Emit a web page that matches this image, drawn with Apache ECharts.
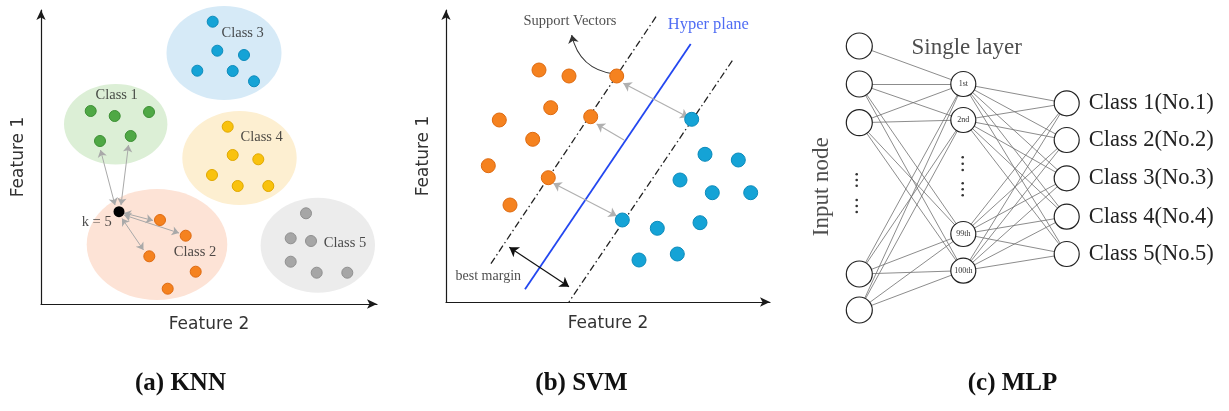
<!DOCTYPE html>
<html><head><meta charset="utf-8">
<script src="https://cdn.jsdelivr.net/npm/echarts@6/dist/echarts.min.js"></script>
<style>html,body{margin:0;padding:0;background:#fff}#c{width:1229px;height:411px}</style>
</head><body><div id="c"></div>
<script>
// ---------- (a) KNN : points in Feature2 / Feature1 units ----------
const knnClassNames = ['Class 1', 'Class 2', 'Class 3', 'Class 4', 'Class 5'];
const knnClass1 = [[49.7,193],[73.7,188],[108,192],[59,163],[89.7,168]];
const knnClass2 = [[119,84],[144.7,68.3],[108.3,47.7],[154.7,32.3],[126.7,15.3]];
const knnClass3 = [[171.7,282.3],[176.3,253.3],[203,249],[156.3,233.3],[191.7,233],[213,222.7]];
const knnClass4 = [[186.7,177.3],[191.7,149],[217.3,144.7],[171,129],[196.7,118],[227.3,118]];
const knnClass5 = [[265,90.7],[249.7,65.7],[270,63],[249.7,42.3],[275.7,31.3],[306.3,31.3]];
const knnQuery = [[78,92.3]];
// cluster regions: [centerX, centerY, radiusX, radiusY]
const knnRegions = [[74.7,179.8,51.7,40.2],[116,59.5,70.3,55.5],[183,251,57.5,47],[198.5,146,57.2,47],[276.8,58.8,57.2,47.5]];
const knnLabelPos = [[75.7,209.3],[154,51.7],[201.7,270.7],[220.7,166.7],[304,61.3]];
const knnArrows = [[[74,99],[59.5,154]],[[80,99],[87.5,159]],[[83,91],[112,83.5]],[[83,89],[138,71]],[[81,85.5],[102.5,54]]];
const knnKLabel = [[55.7,82.3]];

// ---------- (b) SVM ----------
const svmOrange = [[93,232],[123,226],[170.7,226],[104.7,194.3],[53.3,182],[144.7,185.3],[86.7,162.7],[42.3,136.3],[102.3,124.3],[64,97]];
const svmBlue = [[245.7,182.7],[259,147.7],[292.3,142],[234,122],[266.3,109.3],[304.7,109.3],[176.3,82],[211.3,73.7],[254,79.3],[193,42],[231.3,48]];
const svmHyperplane = [[244.7,258],[79,12.7]];
const svmMarginLeft = [[210,285.3],[44,37]];
const svmMarginRight = [[286.3,241.3],[122.9,0]];
const svmGreyDouble = [[[177.3,218.7],[242.3,184.7]],[[107.3,118.7],[170.7,86]]];
const svmGreySingle = [[[178,162],[150.7,178]]];
const svmBestMargin = [[[63.3,54.7],[123,15.3]]];
const svmSupportCurve = [[[168.3,228],[125.7,267]]];
const svmTexts = ['Support Vectors', 'Hyper plane', 'best margin'];
const svmTextPos = [[124,281.3],[262.3,277],[42.3,25.3]];

// ---------- (c) MLP ----------
const mlpInputX = 59.3, mlpHiddenX = 163.3, mlpOutputX = 266.7;
const mlpInputY = [46, 84, 122.7, 274, 310];
const mlpHiddenY = [84, 120, 234, 270.7];
const mlpHiddenNames = ['1st', '2nd', '99th', '100th'];
const mlpOutputY = [103.3, 140, 178.3, 216.7, 254];
const mlpOutputNames = ['Class 1(No.1)', 'Class 2(No.2)', 'Class 3(No.3)', 'Class 4(No.4)', 'Class 5(No.5)'];
const mlpInputToHidden = [[0,0],[1,0],[1,1],[1,2],[1,3],[2,0],[2,1],[2,2],[2,3],[3,0],[3,1],[3,2],[3,3],[4,0],[4,1],[4,2],[4,3]];
const mlpInputDots = [[56.7,174.3],[56.7,180],[56.7,185.7],[56.7,200],[56.7,206],[56.7,212]];
const mlpHiddenDots = [[162.7,157.3],[162.7,163.7],[162.7,170],[162.7,183.3],[162.7,189.3],[162.7,195.3]];
const captions = ['(a) KNN', '(b) SVM', '(c) MLP'];

// ---------- styles ----------
const SERIF = 'Liberation Serif';
const SANS = 'DejaVu Sans';
const classFill = ['#4fa845', '#f5821f', '#15a3d6', '#f9c20e', '#a6a6a6'];
const classBorder = ['#3d8f35', '#de6a10', '#0d8bbb', '#e0a800', '#8f8f8f'];
const regionFill = ['#dcefd6', '#fde3d6', '#d6eaf7', '#fdefd1', '#ececec'];

function featX(gi, max, gap) {
  return {type:'value', gridIndex:gi, min:0, max:max,
    axisLine:{show:true, onZero:false, symbol:['none','arrow'], symbolSize:[7,10], lineStyle:{color:'#1a1a1a', width:1.2}},
    axisTick:{show:false}, axisLabel:{show:false}, splitLine:{show:false},
    name:'Feature 2', nameLocation:'middle', nameGap:gap,
    nameTextStyle:{fontFamily:SANS, fontSize:17, color:'#333'}};
}
function featY(gi, max, gap) {
  return {type:'value', gridIndex:gi, min:0, max:max,
    axisLine:{show:true, onZero:false, symbol:['none','arrow'], symbolSize:[7,10], lineStyle:{color:'#1a1a1a', width:1.2}},
    axisTick:{show:false}, axisLabel:{show:false}, splitLine:{show:false},
    name:'Feature 1', nameLocation:'middle', nameGap:gap,
    nameTextStyle:{fontFamily:SANS, fontSize:17, color:'#333'}};
}

const series = [];

// (a) regions
series.push({type:'custom', xAxisIndex:0, yAxisIndex:0, z:1, silent:true,
  data: knnRegions.map((r,i)=>({value:r, itemStyle:{color:regionFill[i]}})),
  renderItem:(params, api)=>{
    const c = api.coord([api.value(0), api.value(1)]);
    const s = api.size([api.value(2), api.value(3)]);
    return {type:'ellipse', shape:{cx:c[0], cy:c[1], rx:s[0], ry:s[1]}, style:{fill:api.visual('color')}};
  }});
// (a) arrows
series.push({type:'lines', coordinateSystem:'cartesian2d', xAxisIndex:0, yAxisIndex:0, z:3,
  symbol:['arrow','arrow'], symbolSize:7,
  lineStyle:{color:'#a9a9a9', width:1, opacity:1},
  data: knnArrows.map(a=>({coords:a}))});
// (a) points
[knnClass1, knnClass2, knnClass3, knnClass4, knnClass5].forEach((pts,i)=>{
  series.push({type:'scatter', xAxisIndex:0, yAxisIndex:0, z:4, symbolSize:11,
    itemStyle:{color:classFill[i], borderColor:classBorder[i], borderWidth:1, opacity:1},
    data: pts});
});
series.push({type:'scatter', xAxisIndex:0, yAxisIndex:0, z:5, symbolSize:11,
  itemStyle:{color:'#000', opacity:1}, data: knnQuery});
// (a) labels
series.push({type:'scatter', xAxisIndex:0, yAxisIndex:0, z:6, symbolSize:0,
  label:{show:true, position:'inside', formatter:'{b}', fontFamily:SERIF, fontSize:14.5, color:'#222'},
  data: knnLabelPos.map((p,i)=>({name:knnClassNames[i], value:p})).concat(knnKLabel.map(p=>({name:'k = 5', value:p})))});

// (b) hyperplane + margins
series.push({type:'line', xAxisIndex:1, yAxisIndex:1, z:2, symbol:'none', data:svmHyperplane,
  lineStyle:{color:'#2347f0', width:1.8}});
series.push({type:'line', xAxisIndex:1, yAxisIndex:1, z:2, symbol:'none', data:svmMarginLeft,
  lineStyle:{color:'#222', width:1.3, type:[7,3,1.5,3]}});
series.push({type:'line', xAxisIndex:1, yAxisIndex:1, z:2, symbol:'none', data:svmMarginRight,
  lineStyle:{color:'#222', width:1.3, type:[7,3,1.5,3]}});
series.push({type:'lines', coordinateSystem:'cartesian2d', xAxisIndex:1, yAxisIndex:1, z:3,
  symbol:['arrow','arrow'], symbolSize:8, lineStyle:{color:'#b0b0b0', width:1.2, opacity:1},
  data: svmGreyDouble.map(a=>({coords:a}))});
series.push({type:'lines', coordinateSystem:'cartesian2d', xAxisIndex:1, yAxisIndex:1, z:3,
  symbol:['none','arrow'], symbolSize:8, lineStyle:{color:'#b0b0b0', width:1.2, opacity:1},
  data: svmGreySingle.map(a=>({coords:a}))});
series.push({type:'lines', coordinateSystem:'cartesian2d', xAxisIndex:1, yAxisIndex:1, z:3,
  symbol:['arrow','arrow'], symbolSize:9, lineStyle:{color:'#111', width:1.2, opacity:1},
  data: svmBestMargin.map(a=>({coords:a}))});
series.push({type:'lines', coordinateSystem:'cartesian2d', xAxisIndex:1, yAxisIndex:1, z:3,
  symbol:['none','arrow'], symbolSize:8, lineStyle:{color:'#333', width:1.1, opacity:1, curveness:0.35},
  data: svmSupportCurve.map(a=>({coords:a}))});
series.push({type:'scatter', xAxisIndex:1, yAxisIndex:1, z:4, symbolSize:14,
  itemStyle:{color:classFill[1], borderColor:classBorder[1], borderWidth:1, opacity:1}, data:svmOrange});
series.push({type:'scatter', xAxisIndex:1, yAxisIndex:1, z:4, symbolSize:14,
  itemStyle:{color:classFill[2], borderColor:classBorder[2], borderWidth:1, opacity:1}, data:svmBlue});
const svmTextStyle = [
  {fontFamily:SERIF, fontSize:14.5, color:'#222'},
  {fontFamily:SERIF, fontSize:16.5, color:'#2347f0'},
  {fontFamily:SERIF, fontSize:14, color:'#222'}];
series.push({type:'scatter', xAxisIndex:1, yAxisIndex:1, z:6, symbolSize:0,
  data: svmTexts.map((t,i)=>({name:t, value:svmTextPos[i],
    label:Object.assign({show:true, position:'inside', formatter:'{b}'}, svmTextStyle[i])}))});

// (c) connections
const hiddenOutPairs = [];
mlpHiddenY.forEach((hy,h)=>mlpOutputY.forEach((oy,o)=>hiddenOutPairs.push([h,o])));
series.push({type:'lines', coordinateSystem:'cartesian2d', xAxisIndex:2, yAxisIndex:2, z:2,
  lineStyle:{color:'#6e6e6e', width:0.8, opacity:1},
  data: mlpInputToHidden.map(([i,h])=>({coords:[[mlpInputX, mlpInputY[i]],[mlpHiddenX, mlpHiddenY[h]]]}))
    .concat(hiddenOutPairs.map(([h,o])=>({coords:[[mlpHiddenX, mlpHiddenY[h]],[mlpOutputX, mlpOutputY[o]]]})))});
// (c) nodes
series.push({type:'scatter', xAxisIndex:2, yAxisIndex:2, z:4, symbolSize:26,
  itemStyle:{color:'#fff', borderColor:'#222', borderWidth:1.2, opacity:1},
  data: mlpInputY.map(y=>[mlpInputX, y])});
series.push({type:'scatter', xAxisIndex:2, yAxisIndex:2, z:4, symbolSize:25,
  itemStyle:{color:'#fff', borderColor:'#222', borderWidth:1.2, opacity:1},
  label:{show:true, position:'inside', formatter:'{b}', fontFamily:SERIF, fontSize:8, color:'#333'},
  data: mlpHiddenY.map((y,i)=>({name:mlpHiddenNames[i], value:[mlpHiddenX, y]}))});
series.push({type:'scatter', xAxisIndex:2, yAxisIndex:2, z:4, symbolSize:25,
  itemStyle:{color:'#fff', borderColor:'#222', borderWidth:1.2, opacity:1},
  label:{show:true, position:'right', distance:9, formatter:'{b}', fontFamily:SERIF, fontSize:22.5, color:'#222'},
  data: mlpOutputY.map((y,i)=>({name:mlpOutputNames[i], value:[mlpOutputX, y]}))});
series.push({type:'scatter', xAxisIndex:2, yAxisIndex:2, z:4, symbolSize:2.6,
  itemStyle:{color:'#333', opacity:1}, data: mlpInputDots.concat(mlpHiddenDots)});
series.push({type:'scatter', xAxisIndex:2, yAxisIndex:2, z:6, symbolSize:0,
  data:[
    {name:'Single layer', value:[166.7,48.3], label:{show:true, position:'inside', formatter:'{b}', fontFamily:SERIF, fontSize:23, color:'#222'}},
    {name:'Input node', value:[21.7,186.7], label:{show:true, position:'inside', rotate:90, formatter:'{b}', fontFamily:SERIF, fontSize:23, color:'#222'}}
  ]});

const option = {
  backgroundColor:'#fff',
  animation:false,
  grid:[
    {left:41, top:10, width:336, height:294},
    {left:446, top:10, width:324, height:292},
    {left:800, top:0, width:429, height:340}
  ],
  xAxis:[featX(0,336,12), featX(1,324,13),
    {type:'value', gridIndex:2, min:0, max:429, show:false}],
  yAxis:[featY(0,294,14), featY(1,292,14),
    {type:'value', gridIndex:2, min:0, max:340, inverse:true, show:false}],
  graphic: captions.map((t,i)=>({type:'text', x:[180.5,581.5,1012.5][i], y:384,
    style:{text:t, font:'bold 25px "Liberation Serif"', fill:'#111', textAlign:'center', textVerticalAlign:'middle'}})),
  series: series
};
const chart = echarts.init(document.getElementById('c'), null, {renderer:'canvas'});
chart.setOption(option);
</script>
</body></html>
